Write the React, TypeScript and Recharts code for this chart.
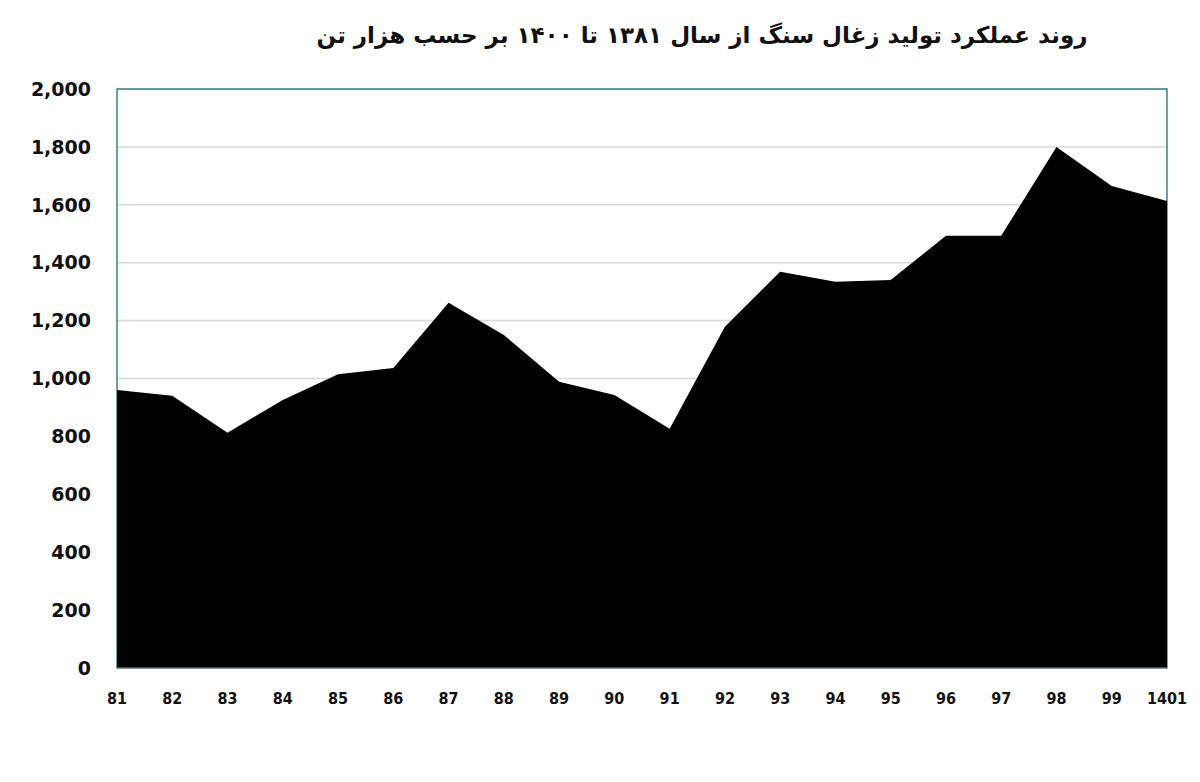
import { Area, AreaChart, CartesianGrid, ReferenceArea, XAxis, YAxis } from 'recharts'

const years = ['81', '82', '83', '84', '85', '86', '87', '88', '89', '90', '91', '92', '93', '94', '95', '96', '97', '98', '99', '1401']
const production = [960, 940, 813, 926, 1015, 1036, 1262, 1150, 989, 943, 826, 1179, 1369, 1334, 1340, 1493, 1493, 1800, 1665, 1613]
const yTicks = [0, 200, 400, 600, 800, 1000, 1200, 1400, 1600, 1800, 2000]
const title = 'روند عملکرد تولید زغال سنگ از سال ۱۳۸۱ تا ۱۴۰۰ بر حسب هزار تن'

const data = years.map((year, i) => ({ year, value: production[i] }))

export default function App() {
  return (
    <div style={{ position: 'absolute', left: 0, top: 0, width: 1200, height: 782, background: '#fff' }}>
      <div
        dir="rtl"
        style={{
          position: 'absolute',
          left: 0,
          top: 22,
          width: 1404,
          textAlign: 'center',
          fontFamily: '"DejaVu Sans", sans-serif',
          fontWeight: 'bold',
          fontSize: 23,
          color: '#111',
        }}
      >
        {title}
      </div>
      <AreaChart width={1200} height={782} data={data} margin={{ top: 89, right: 33, bottom: 74, left: 0 }}>
        <CartesianGrid horizontal vertical={false} stroke="#d9d9d9" strokeWidth={1.5} />
        <ReferenceArea x1="81" x2="1401" y1={0} y2={2000} fill="none" stroke="#3f7f93" strokeWidth={1.5} />
        <XAxis
          dataKey="year"
          height={40}
          tickSize={0}
          tickMargin={25}
          axisLine={{ stroke: '#9a9a9a' }}
          tick={{ fontFamily: '"DejaVu Sans Condensed", "DejaVu Sans"', fontWeight: 'bold', fontSize: 16, fill: '#111' }}
          interval={0}
        />
        <YAxis
          width={117}
          domain={[0, 2000]}
          ticks={yTicks}
          tickFormatter={(v: number) => v.toLocaleString('en-US')}
          tickSize={0}
          tickMargin={26}
          axisLine={false}
          tick={{ fontFamily: '"DejaVu Sans"', fontWeight: 'bold', fontSize: 19, fill: '#111' }}
        />
        <Area type="linear" dataKey="value" stroke="none" fill="#000" fillOpacity={1} isAnimationActive={false} />
      </AreaChart>
    </div>
  )
}
